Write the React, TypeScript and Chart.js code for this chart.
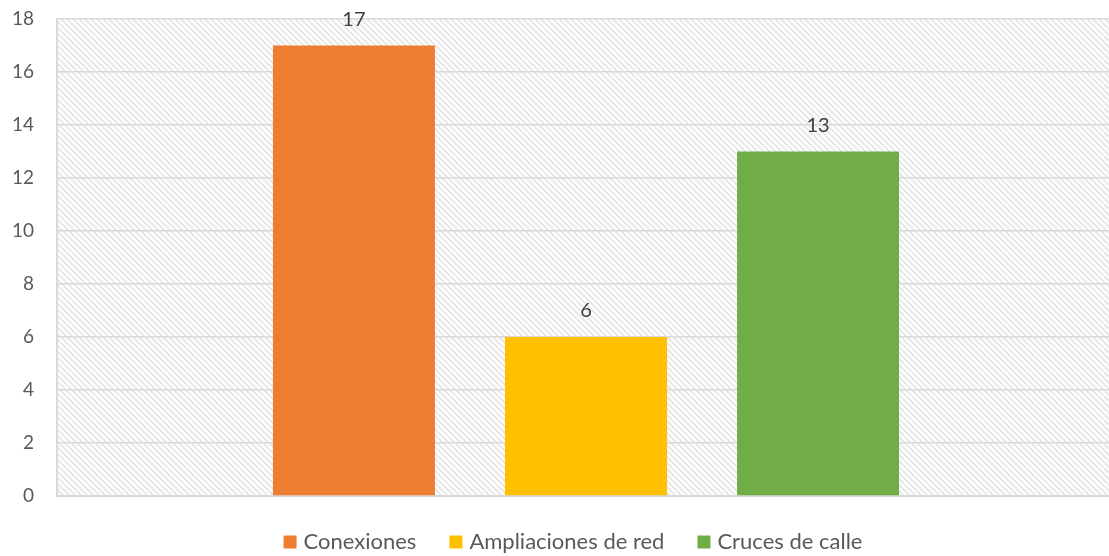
import React, { useEffect, useRef } from "react";
import { Chart, registerables } from "chart.js";

Chart.register(...registerables);

const categories = [""];
const seriesNames = ["Conexiones", "Ampliaciones de red", "Cruces de calle"];
const seriesValues = [[17], [6], [13]];
const seriesColors = ["#ED7D31", "#FFC000", "#70AD47"];
const yTicks = [0, 2, 4, 6, 8, 10, 12, 14, 16, 18];

const FONT = "Lato, 'Liberation Sans', sans-serif";

function makePattern(ctx0: CanvasRenderingContext2D): CanvasPattern | string {
  const c = document.createElement("canvas");
  const s = 6;
  c.width = s;
  c.height = s;
  const ctx = c.getContext("2d");
  if (!ctx) return "#f4f4f4";
  ctx.fillStyle = "#ffffff";
  ctx.fillRect(0, 0, s, s);
  ctx.strokeStyle = "#e8e8e8";
  ctx.lineWidth = 2;
  for (let k = -1; k <= 1; k++) {
    ctx.beginPath();
    ctx.moveTo(k * s - 1, -1);
    ctx.lineTo(k * s + s + 1, s + 1);
    ctx.stroke();
  }
  const p = ctx0.createPattern(c, "repeat");
  return p || "#f4f4f4";
}

const hatchPlugin = {
  id: "hatchBg",
  beforeDraw(chart: any) {
    const { ctx, chartArea } = chart;
    if (!chartArea) return;
    ctx.save();
    ctx.fillStyle = makePattern(ctx);
    ctx.fillRect(chartArea.left, chartArea.top, chartArea.right - chartArea.left, chartArea.bottom - chartArea.top);
    ctx.restore();
  },
};

const labelPlugin = {
  id: "valueLabels",
  afterDatasetsDraw(chart: any) {
    const { ctx } = chart;
    ctx.save();
    ctx.font = `20px ${FONT}`;
    ctx.fillStyle = "#404040";
    ctx.textAlign = "center";
    ctx.textBaseline = "middle";
    chart.data.datasets.forEach((ds: any, i: number) => {
      const meta = chart.getDatasetMeta(i);
      meta.data.forEach((bar: any, j: number) => {
        ctx.fillText(String(ds.data[j]), bar.x, bar.y - 26);
      });
    });
    ctx.restore();
  },
};

// Legend drawn below the plot, centred like the original
const legendPlugin = {
  id: "customLegend",
  afterDraw(chart: any) {
    const { ctx } = chart;
    const box = 13;
    const gapText = 7;
    const gapItem = 33;
    ctx.save();
    ctx.font = `22px ${FONT}`;
    ctx.textBaseline = "middle";
    ctx.textAlign = "left";
    const items = chart.data.datasets.map((ds: any) => ({
      text: ds.label,
      color: ds.backgroundColor,
      w: ctx.measureText(ds.label).width,
    }));
    const total = items.reduce((a: number, it: any) => a + box + gapText + it.w, 0) + gapItem * (items.length - 1);
    const cx = chart.chartArea.left + (chart.chartArea.right - chart.chartArea.left) / 2 - 13;
    let x = cx - total / 2;
    const y = chart.chartArea.bottom + 46;
    items.forEach((it: any) => {
      ctx.fillStyle = it.color;
      ctx.fillRect(x, y - box / 2, box, box);
      ctx.fillStyle = "#595959";
      ctx.fillText(it.text, x + box + gapText, y);
      x += box + gapText + it.w + gapItem;
    });
    ctx.restore();
  },
};

export default function App() {
  const ref = useRef<HTMLCanvasElement>(null);
  useEffect(() => {
    document.body.style.margin = "0";
    if (!ref.current) return;
    const chart = new Chart(ref.current, {
      type: "bar",
      data: {
        labels: categories,
        datasets: seriesNames.map((name, i) => ({
          label: name,
          data: seriesValues[i],
          backgroundColor: seriesColors[i],
          borderWidth: 0,
          categoryPercentage: 0.658,
          barPercentage: 0.698,
        })),
      },
      options: {
        animation: false,
        responsive: false,
        maintainAspectRatio: false,
        layout: { padding: { top: 19, right: 0, left: 0, bottom: 59 } },
        plugins: {
          legend: { display: false },
          tooltip: { enabled: false },
        },
        scales: {
          x: {
            ticks: { display: false },
            grid: { display: false, drawTicks: false },
            border: { display: true, color: "#d9d9d9", width: 2 },
            afterFit: (s: any) => {
              s.height = 1;
              s.paddingLeft = 0;
              s.paddingRight = 0;
            },
          },
          y: {
            min: 0,
            max: 18,
            afterFit: (s: any) => {
              s.width = 57;
              s.paddingTop = 0;
              s.paddingBottom = 0;
            },
            afterBuildTicks: (s: any) => {
              s.ticks = yTicks.map((v) => ({ value: v }));
            },
            ticks: {
              font: { family: FONT, size: 19 },
              color: "#595959",
              padding: 23,
            },
            grid: { color: "#d9d9d9", lineWidth: 1.5, drawTicks: false },
            border: { display: true, color: "#d9d9d9", width: 2 },
          },
        },
      },
      plugins: [hatchPlugin, labelPlugin, legendPlugin],
    });
    return () => chart.destroy();
  }, []);
  return (
    <div style={{ position: "fixed", left: 0, top: 0, width: 1109, height: 556, overflow: "hidden" }}>
      <canvas ref={ref} width={1115} height={556} style={{ width: 1115, height: 556 }} />
    </div>
  );
}
